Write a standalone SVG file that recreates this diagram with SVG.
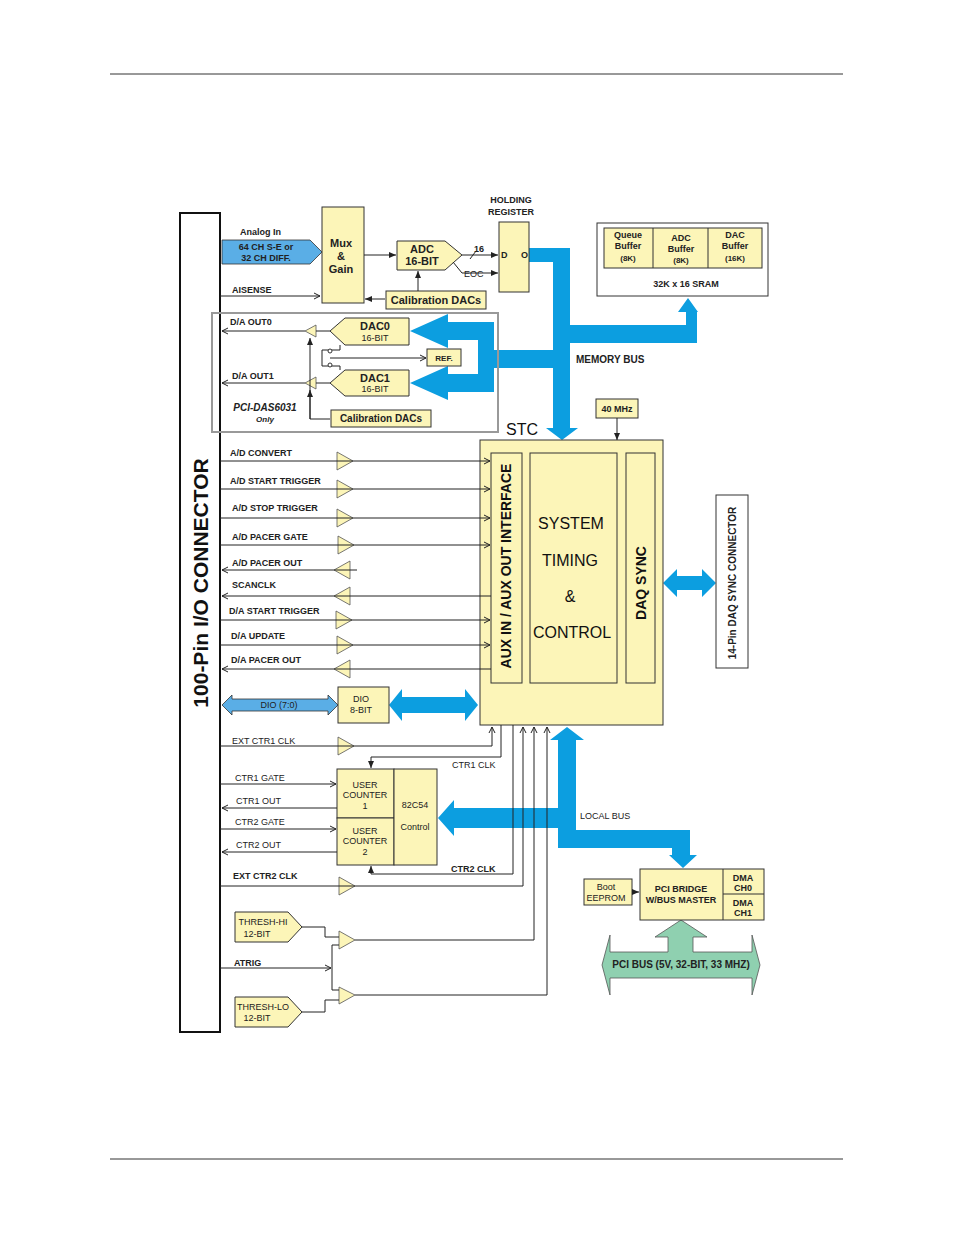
<svg xmlns="http://www.w3.org/2000/svg" width="954" height="1235" viewBox="0 0 954 1235">
<defs>
<marker id="a" markerWidth="8" markerHeight="8" refX="7" refY="4" orient="auto" markerUnits="userSpaceOnUse"><path d="M1,1 L7,4 L1,7" fill="none" stroke="#222" stroke-width="1"/></marker>
<marker id="f" markerWidth="8" markerHeight="8" refX="7" refY="4" orient="auto" markerUnits="userSpaceOnUse"><path d="M0,1 L7,4 L0,7z" fill="#222"/></marker>
</defs>
<style>
.y{fill:#fcf5b8;stroke:#333;stroke-width:1}
.b{fill:#0c9ee0}
.lb{fill:#5aaee6;stroke:#333;stroke-width:0.8}
.l{fill:none;stroke:#222;stroke-width:1}
.t{font-family:"Liberation Sans",Arial,sans-serif;font-size:9px;font-weight:bold;fill:#222}
.n{font-weight:normal}
.m{font-family:"Liberation Sans",Arial,sans-serif;font-size:11px;font-weight:bold;fill:#222}
.big{font-family:"Liberation Sans",Arial,sans-serif;font-size:16px;fill:#111}
.tri{fill:#fcf5b8;stroke:#555;stroke-width:0.8}
</style>
<rect width="954" height="1235" fill="#fff"/>
<line x1="110" y1="74" x2="843" y2="74" stroke="#333"/>
<line x1="110" y1="1159" x2="843" y2="1159" stroke="#333"/>

<g id="buses">
<polygon class="b" points="529,248 570,248 570,325 686,325 686,312 678,312 688,298 698,312 697,312 697,343 570,343 570,428 578,428 562,440 546,428 553,428 553,368 494,368 494,392 448,392 448,400 410,383 448,366 448,374 478,374 478,340 448,340 448,348 410,331 448,314 448,322 494,322 494,350 553,350 553,262 529,262"/>
<polygon class="b" points="558,740 550,740 567,727 584,740 576,740 576,830 690,830 690,855 697,855 683,868 669,855 672,855 672,848 558,848 558,828 454,828 454,836 438,818 454,800 454,808 558,808"/>
<polygon class="b" points="389,705 402,689 402,697 465,697 465,689 478,705 465,721 465,713 402,713 402,721"/>
<polygon class="b" points="663,583 677,569 677,576 702,576 702,569 716,583 702,597 702,590 677,590 677,597"/>
<polygon class="lb" points="222,240 310,240 322,252 310,264 222,264"/>
<polygon class="lb" points="222,705 232,695 232,699 328,699 328,695 338,705 328,715 328,711 232,711 232,715"/>
<polygon fill="#8fd0b0" stroke="#555" stroke-width="0.8" points="602,965 610,935 610,952 668,952 668,937 655,937 681,920 707,937 693,937 693,952 752,952 752,935 760,965 752,995 752,978 610,978 610,995"/>
</g>

<g id="connector"><rect x="180" y="213" width="40" height="819" fill="#fff" stroke="#111" stroke-width="2"/>
<text class="big" style="font-size:21px;font-weight:bold" transform="translate(208,583) rotate(-90)" text-anchor="middle">100-Pin I/O CONNECTOR</text></g>

<g id="mux"><rect class="y" x="322" y="207" width="42" height="96"/>
<text class="m" x="341" y="247" text-anchor="middle">Mux</text><text class="m" x="341" y="260" text-anchor="middle">&amp;</text><text class="m" x="341" y="273" text-anchor="middle">Gain</text></g>
<g id="adc"><polygon class="y" points="397,241 445,241 462,255 445,270 397,270"/>
<text class="m" x="422" y="253" text-anchor="middle">ADC</text><text class="m" x="422" y="265" text-anchor="middle">16-BIT</text></g>
<g id="holding"><rect class="y" x="499" y="222" width="30" height="70"/>
<text class="t" x="511" y="203" text-anchor="middle">HOLDING</text><text class="t" x="511" y="215" text-anchor="middle">REGISTER</text>
<text class="t" x="501" y="258">D</text><text class="t" x="521" y="258">O</text></g>
<g id="caldac1"><rect class="y" x="386" y="291" width="100" height="18"/><text class="m" x="436" y="304" text-anchor="middle">Calibration DACs</text></g>
<text class="t" x="240" y="235">Analog In</text>
<text class="t" x="266" y="250" text-anchor="middle">64 CH S-E or</text>
<text class="t" x="266" y="261" text-anchor="middle">32 CH DIFF.</text>
<text class="t" x="232" y="293">AISENSE</text>

<rect x="212" y="313" width="286" height="119" fill="none" stroke="#999" stroke-width="2"/>
<g id="dac0"><polygon class="y" points="330,331 345,318 409,318 409,345 345,345"/><text class="m" x="375" y="330" text-anchor="middle">DAC0</text><text class="t n" x="375" y="341" text-anchor="middle">16-BIT</text></g>
<g id="dac1"><polygon class="y" points="330,383 345,370 409,370 409,396 345,396"/><text class="m" x="375" y="382" text-anchor="middle">DAC1</text><text class="t n" x="375" y="392" text-anchor="middle">16-BIT</text></g>
<g id="ref"><rect class="y" x="427" y="349" width="34" height="17"/><text class="t" x="444" y="361" text-anchor="middle" style="font-size:8px">REF.</text></g>
<g id="caldac2"><rect class="y" x="331" y="410" width="100" height="17"/><text class="m" x="381" y="422" text-anchor="middle" style="font-size:10px">Calibration DACs</text></g>
<polygon class="tri" points="305,331 316,325 316,337"/>
<polygon class="tri" points="305,383 316,377 316,389"/>
<text class="t" x="230" y="325">D/A OUT0</text>
<text class="t" x="232" y="379">D/A OUT1</text>
<text class="t" x="265" y="411" text-anchor="middle" font-style="italic" style="font-size:10px">PCI-DAS6031</text>
<text class="t" x="265" y="422" text-anchor="middle" font-style="italic" style="font-size:8px">Only</text>

<g id="sram"><rect x="597" y="223" width="171" height="73" fill="#fff" stroke="#333"/>
<rect class="y" x="604" y="228" width="158" height="40"/><line x1="653" y1="228" x2="653" y2="268" stroke="#333"/><line x1="708" y1="228" x2="708" y2="268" stroke="#333"/>
<text class="t" x="628" y="238" text-anchor="middle">Queue</text><text class="t" x="628" y="249" text-anchor="middle">Buffer</text><text class="t" x="628" y="261" text-anchor="middle" style="font-size:8px">(8K)</text>
<text class="t" x="681" y="241" text-anchor="middle">ADC</text><text class="t" x="681" y="252" text-anchor="middle">Buffer</text><text class="t" x="681" y="263" text-anchor="middle" style="font-size:8px">(8K)</text>
<text class="t" x="735" y="238" text-anchor="middle">DAC</text><text class="t" x="735" y="249" text-anchor="middle">Buffer</text><text class="t" x="735" y="261" text-anchor="middle" style="font-size:8px">(16K)</text>
<text class="t" x="686" y="287" text-anchor="middle">32K x 16 SRAM</text></g>
<text class="t" x="576" y="363" style="font-size:10px">MEMORY BUS</text>
<g id="clk"><rect class="y" x="596" y="399" width="42" height="19"/><text class="t" x="617" y="412" text-anchor="middle">40 MHz</text></g>

<g id="stc"><rect class="y" x="480" y="440" width="183" height="285"/>
<text class="big" x="522" y="435" text-anchor="middle">STC</text>
<rect class="y" x="491" y="453" width="31" height="230"/>
<text class="big" style="font-size:14px;font-weight:bold" transform="translate(511,566) rotate(-90)" text-anchor="middle">AUX IN / AUX OUT INTERFACE</text>
<rect class="y" x="530" y="453" width="87" height="230"/>
<text class="big" x="571" y="529" text-anchor="middle">SYSTEM</text><text class="big" x="570" y="566" text-anchor="middle">TIMING</text><text class="big" x="570" y="602" text-anchor="middle">&amp;</text><text class="big" x="572" y="638" text-anchor="middle">CONTROL</text>
<rect class="y" x="626" y="453" width="29" height="230"/>
<text class="big" style="font-size:14px;font-weight:bold" transform="translate(646,583) rotate(-90)" text-anchor="middle">DAQ SYNC</text></g>
<g id="sync14"><rect x="716" y="495" width="32" height="173" fill="#fff" stroke="#333"/>
<text class="t" style="font-size:10px" transform="translate(736,583) rotate(-90)" text-anchor="middle">14-Pin DAQ SYNC CONNECTOR</text></g>

<g id="signals">
<text class="t" x="230" y="456">A/D CONVERT</text><text class="t" x="230" y="484">A/D START TRIGGER</text><text class="t" x="232" y="511">A/D STOP TRIGGER</text><text class="t" x="232" y="540">A/D PACER GATE</text><text class="t" x="232" y="566">A/D PACER OUT</text><text class="t" x="232" y="588">SCANCLK</text><text class="t" x="229" y="614">D/A START TRIGGER</text><text class="t" x="231" y="639">D/A  UPDATE</text><text class="t" x="231" y="663">D/A PACER OUT</text>
<polygon class="tri" points="337,452 353,461 337,470"/><polygon class="tri" points="337,480 353,489 337,498"/><polygon class="tri" points="337,509 353,518 337,527"/><polygon class="tri" points="338,536 354,545 338,554"/>
<polygon class="tri" points="350,561 334,570 350,579"/><polygon class="tri" points="350,587 334,596 350,605"/>
<polygon class="tri" points="336,611 352,620 336,629"/><polygon class="tri" points="337,636 353,645 337,654"/><polygon class="tri" points="350,660 334,669 350,678"/>
</g>
<g id="dio"><rect class="y" x="338" y="687" width="51" height="36"/><text class="t n" x="361" y="702" text-anchor="middle">DIO</text><text class="t n" x="361" y="713" text-anchor="middle">8-BIT</text>
<text class="t n" x="279" y="708" text-anchor="middle">DIO (7:0)</text></g>

<g id="counters"><rect class="y" x="337" y="769" width="57" height="49"/><rect class="y" x="337" y="818" width="57" height="47"/><rect class="y" x="394" y="769" width="43" height="96"/>
<text class="t n" x="365" y="788" text-anchor="middle">USER</text><text class="t n" x="365" y="798" text-anchor="middle">COUNTER</text><text class="t n" x="365" y="809" text-anchor="middle">1</text>
<text class="t n" x="365" y="834" text-anchor="middle">USER</text><text class="t n" x="365" y="844" text-anchor="middle">COUNTER</text><text class="t n" x="365" y="855" text-anchor="middle">2</text>
<text class="t n" x="415" y="808" text-anchor="middle">82C54</text><text class="t n" x="415" y="830" text-anchor="middle">Control</text></g>
<text class="t n" x="232" y="744">EXT CTR1 CLK</text><text class="t n" x="235" y="781">CTR1 GATE</text><text class="t n" x="236" y="804">CTR1 OUT</text><text class="t n" x="235" y="825">CTR2 GATE</text><text class="t n" x="236" y="848">CTR2 OUT</text><text class="t" x="233" y="879">EXT CTR2 CLK</text>
<text class="t n" x="452" y="768">CTR1 CLK</text><text class="t" x="451" y="872">CTR2 CLK</text>
<text class="t n" x="580" y="819">LOCAL BUS</text>
<polygon class="tri" points="338,737 354,746 338,755"/><polygon class="tri" points="339,877 355,886 339,895"/>
<g id="threshhi"><polygon class="y" points="235,912 288,912 302,927 288,942 235,942"/><text class="t n" x="263" y="925" text-anchor="middle">THRESH-HI</text><text class="t n" x="257" y="937" text-anchor="middle">12-BIT</text></g>
<g id="threshlo"><polygon class="y" points="235,997 288,997 302,1012 288,1027 235,1027"/><text class="t n" x="263" y="1010" text-anchor="middle">THRESH-LO</text><text class="t n" x="257" y="1021" text-anchor="middle">12-BIT</text></g>
<polygon class="tri" points="339,931 355,940 339,949"/><polygon class="tri" points="339,987 355,995 339,1004"/>
<text class="t" x="234" y="966">ATRIG</text>

<g id="bridge"><rect class="y" x="584" y="879" width="48" height="26"/><text class="t n" x="606" y="890" text-anchor="middle">Boot</text><text class="t n" x="606" y="901" text-anchor="middle">EEPROM</text>
<rect class="y" x="640" y="869" width="124" height="51"/><line x1="723" y1="869" x2="723" y2="920" stroke="#333"/><line x1="723" y1="894" x2="764" y2="894" stroke="#333"/>
<text class="t" x="681" y="892" text-anchor="middle">PCI BRIDGE</text><text class="t" x="681" y="903" text-anchor="middle">W/BUS MASTER</text>
<text class="t" x="743" y="881" text-anchor="middle">DMA</text><text class="t" x="743" y="891" text-anchor="middle">CH0</text><text class="t" x="743" y="906" text-anchor="middle">DMA</text><text class="t" x="743" y="916" text-anchor="middle">CH1</text>
<text class="t" x="681" y="968" text-anchor="middle" style="font-size:10px">PCI BUS (5V, 32-BIT, 33 MHZ)</text></g>

<g id="connectors">
<path class="l" d="M364,255 H396" marker-end="url(#f)"/>
<path class="l" d="M462,255 H498" marker-end="url(#f)"/><path class="l" d="M470,259 L476,251"/><text class="t" x="474" y="252">16</text>
<path class="l" d="M453,262 L462,273 H498" marker-end="url(#f)"/><text class="t n" x="464" y="277">EOC</text>
<path class="l" d="M418,291 V271" marker-end="url(#f)"/>
<path class="l" d="M385,299 H365" marker-end="url(#f)"/>
<path class="l" d="M220,296 H320" marker-end="url(#a)"/>
<path class="l" d="M305,331 H222" marker-end="url(#a)"/><path class="l" d="M330,331 H316"/>
<path class="l" d="M305,383 H222" marker-end="url(#a)"/><path class="l" d="M330,383 H316"/>
<path class="l" d="M340,345 V350 H322 V366 H340 V370"/><path class="l" d="M330,358 H426" marker-end="url(#a)"/>
<circle cx="330" cy="351" r="2" fill="#fff" stroke="#333"/><circle cx="330" cy="365" r="2" fill="#fff" stroke="#333"/>
<path class="l" d="M330,419 H310 V338" marker-end="url(#f)"/><path class="l" d="M310,419 V390" marker-end="url(#f)"/>
<path class="l" d="M617,418 V440" marker-end="url(#f)"/>
<path class="l" d="M220,461 H490" marker-end="url(#a)"/><path class="l" d="M220,489 H490" marker-end="url(#a)"/><path class="l" d="M220,518 H490" marker-end="url(#a)"/><path class="l" d="M220,545 H490" marker-end="url(#a)"/>
<path class="l" d="M357,570 H222" marker-end="url(#a)"/><path class="l" d="M491,596 H222" marker-end="url(#a)"/>
<path class="l" d="M220,620 H490" marker-end="url(#a)"/><path class="l" d="M220,645 H490" marker-end="url(#a)"/><path class="l" d="M491,669 H222" marker-end="url(#a)"/>
<path class="l" d="M220,746 H492 V727" marker-end="url(#a)"/>
<path class="l" d="M501,725 V757 H371 V768" marker-end="url(#f)"/>
<path class="l" d="M220,784 H336" marker-end="url(#a)"/><path class="l" d="M337,808 H222" marker-end="url(#a)"/><path class="l" d="M220,829 H336" marker-end="url(#a)"/><path class="l" d="M337,852 H222" marker-end="url(#a)"/>
<path class="l" d="M513,725 V874 H371 V866" marker-end="url(#f)"/>
<path class="l" d="M220,886 H523 V727" marker-end="url(#a)"/>
<path class="l" d="M355,940 H534 V727" marker-end="url(#a)"/>
<path class="l" d="M355,995 H547 V727" marker-end="url(#a)"/>
<path class="l" d="M302,927 H325 V937 H339"/><path class="l" d="M302,1012 H325 V1000 H339"/>
<path class="l" d="M339,945 H332 V990 H339"/>
<path class="l" d="M220,968 H331" marker-end="url(#a)"/>
<path class="l" d="M632,892 H639" marker-end="url(#f)"/>
</g>
</svg>
